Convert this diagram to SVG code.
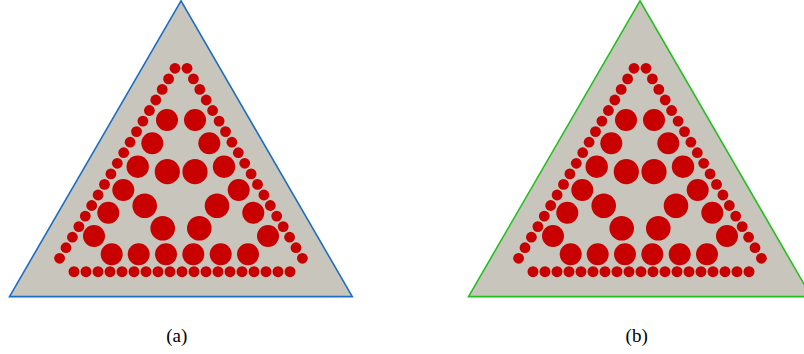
<svg xmlns="http://www.w3.org/2000/svg" xmlns:xlink="http://www.w3.org/1999/xlink" width="804" height="354" viewBox="0 0 804 354">
<style>
.tri{fill:#c8c5bc;stroke-width:1.6;stroke-linejoin:miter}
.s{fill:#c80000}
.lbl{font-family:"Liberation Serif","Times New Roman",serif;font-size:19px;fill:#000;text-anchor:middle}
</style>
<defs>
<g id="dots">
<g class="s">
<circle cx="175" cy="68.3" r="5.4"/><circle cx="168.6" cy="78.9" r="5.4"/><circle cx="162.2" cy="89.4" r="5.4"/><circle cx="155.8" cy="100" r="5.4"/><circle cx="149.4" cy="110.5" r="5.4"/><circle cx="142.9" cy="121.1" r="5.4"/><circle cx="136.5" cy="131.6" r="5.4"/><circle cx="130.1" cy="142.2" r="5.4"/><circle cx="123.7" cy="152.7" r="5.4"/><circle cx="117.3" cy="163.3" r="5.4"/><circle cx="110.9" cy="173.9" r="5.4"/><circle cx="104.5" cy="184.4" r="5.4"/><circle cx="98.1" cy="195" r="5.4"/><circle cx="91.7" cy="205.5" r="5.4"/><circle cx="85.3" cy="216.1" r="5.4"/><circle cx="78.9" cy="226.6" r="5.4"/><circle cx="72.4" cy="237.2" r="5.4"/><circle cx="66" cy="247.7" r="5.4"/><circle cx="59.6" cy="258.3" r="5.4"/>
<circle cx="187" cy="68.3" r="5.4"/><circle cx="193.4" cy="78.9" r="5.4"/><circle cx="199.8" cy="89.4" r="5.4"/><circle cx="206.2" cy="100" r="5.4"/><circle cx="212.6" cy="110.5" r="5.4"/><circle cx="219.1" cy="121.1" r="5.4"/><circle cx="225.5" cy="131.6" r="5.4"/><circle cx="231.9" cy="142.2" r="5.4"/><circle cx="238.3" cy="152.7" r="5.4"/><circle cx="244.7" cy="163.3" r="5.4"/><circle cx="251.1" cy="173.9" r="5.4"/><circle cx="257.5" cy="184.4" r="5.4"/><circle cx="263.9" cy="195" r="5.4"/><circle cx="270.3" cy="205.5" r="5.4"/><circle cx="276.7" cy="216.1" r="5.4"/><circle cx="283.2" cy="226.6" r="5.4"/><circle cx="289.6" cy="237.2" r="5.4"/><circle cx="296" cy="247.7" r="5.4"/><circle cx="302.4" cy="258.3" r="5.4"/>
<circle cx="74" cy="271.7" r="5.5"/><circle cx="86" cy="271.7" r="5.5"/><circle cx="98" cy="271.7" r="5.5"/><circle cx="110" cy="271.7" r="5.5"/><circle cx="122" cy="271.7" r="5.5"/><circle cx="134" cy="271.7" r="5.5"/><circle cx="146" cy="271.7" r="5.5"/><circle cx="158" cy="271.7" r="5.5"/><circle cx="170" cy="271.7" r="5.5"/><circle cx="182" cy="271.7" r="5.5"/><circle cx="194" cy="271.7" r="5.5"/><circle cx="206" cy="271.7" r="5.5"/><circle cx="218" cy="271.7" r="5.5"/><circle cx="230" cy="271.7" r="5.5"/><circle cx="242" cy="271.7" r="5.5"/><circle cx="254" cy="271.7" r="5.5"/><circle cx="266" cy="271.7" r="5.5"/><circle cx="278" cy="271.7" r="5.5"/><circle cx="290" cy="271.7" r="5.5"/>
<circle cx="167" cy="120" r="11"/><circle cx="195" cy="120" r="11"/>
<circle cx="152.3" cy="143.3" r="11"/><circle cx="209.3" cy="143.3" r="11"/>
<circle cx="137.7" cy="166.7" r="11.2"/><circle cx="224" cy="166.7" r="11.2"/>
<circle cx="167.3" cy="171.7" r="12.6"/><circle cx="195" cy="171.7" r="12.6"/>
<circle cx="123.3" cy="190" r="11"/><circle cx="238.7" cy="190" r="11"/>
<circle cx="144.7" cy="205.7" r="12.3"/><circle cx="217" cy="205.7" r="12.3"/>
<circle cx="108.3" cy="212.7" r="11"/><circle cx="253.3" cy="212.7" r="11"/>
<circle cx="162.7" cy="228.3" r="12.3"/><circle cx="199.3" cy="228.3" r="12.3"/>
<circle cx="94" cy="236" r="11"/><circle cx="268" cy="236" r="11"/>
<circle cx="111.7" cy="254.3" r="11"/><circle cx="138.7" cy="254.3" r="11"/><circle cx="166" cy="254.3" r="11"/><circle cx="193.3" cy="254.3" r="11"/><circle cx="220.7" cy="254.3" r="11"/><circle cx="248" cy="254.3" r="11"/>
</g>
</g>
</defs>
<rect width="804" height="354" fill="#ffffff"/>
<g id="panel-a">
<polygon class="tri" points="181,0.8 9.5,296.6 352.3,296.6" stroke="#1c6ec2"/>
<use xlink:href="#dots" href="#dots"/>
<text class="lbl" x="176.7" y="342">(a)</text>
</g>
<g id="panel-b">
<polygon class="tri" points="640,0.8 468.5,296.6 811.3,296.6" stroke="#22c01e"/>
<use xlink:href="#dots" href="#dots" transform="translate(459,0)"/>
<text class="lbl" x="636.7" y="342">(b)</text>
</g>
</svg>
